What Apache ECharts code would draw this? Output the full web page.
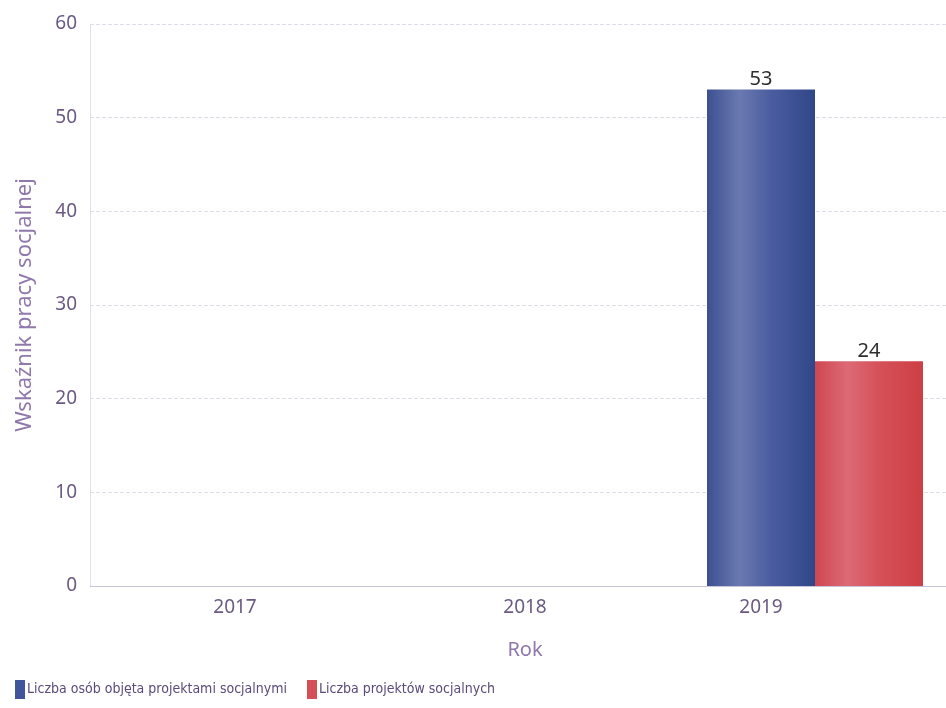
<!DOCTYPE html>
<html>
<head>
<meta charset="utf-8">
<script src="https://cdn.jsdelivr.net/npm/echarts@6/dist/echarts.min.js"></script>
<style>html,body{margin:0;padding:0;background:#fff;}#main{width:946px;height:708px;}</style>
</head>
<body>
<div id="main"></div>
<script>
const categories = ['2017', '2018', '2019'];
const seriesNames = ['Liczba osób objęta projektami socjalnymi', 'Liczba projektów socjalnych'];
const osobyValues = [null, null, 53];
const projektyValues = [null, null, 24];
const yTicks = { min: 0, max: 60, interval: 10 };

const chart = echarts.init(document.getElementById('main'));
const blueGrad = new echarts.graphic.LinearGradient(0, 0, 1, 0, [
  { offset: 0, color: '#3c5091' },
  { offset: 0.3, color: '#6a79b0' },
  { offset: 0.6, color: '#4a5c9f' },
  { offset: 1, color: '#2f478a' }
]);
const redGrad = new echarts.graphic.LinearGradient(0, 0, 1, 0, [
  { offset: 0, color: '#cf4650' },
  { offset: 0.3, color: '#dc6a76' },
  { offset: 0.6, color: '#d65058' },
  { offset: 1, color: '#cc3f44' }
]);
chart.setOption({
  animation: false,
  backgroundColor: '#ffffff',
  textStyle: { fontFamily: 'Noto Sans' },
  grid: { left: 90, right: -14, top: 24, bottom: 122, outerBoundsMode: 'none', containLabel: false },
  legend: {
    left: 10, bottom: 4, itemGap: 20, itemWidth: 10, itemHeight: 19,
    icon: 'rect',
    textStyle: { fontFamily: "'DejaVu Sans Condensed', 'Liberation Sans'", fontSize: 14, color: '#5b4a7a', padding: [0, 0, 0, -3] },
    data: [
      { name: seriesNames[0], itemStyle: { color: '#41559a' } },
      { name: seriesNames[1], itemStyle: { color: '#d44f58' } }
    ]
  },
  xAxis: {
    type: 'category', data: categories,
    name: 'Rok', nameLocation: 'middle', nameGap: 54,
    nameTextStyle: { color: '#8f78ab', fontSize: 20 },
    axisLine: { lineStyle: { color: '#c9c3d6' } },
    axisTick: { show: false },
    axisLabel: {
      color: '#6b5a82', fontSize: 19, margin: 12,
      formatter: function (v, i) { return i === categories.length - 1 ? '{s|' + v + '}' : v; },
      rich: { s: { color: '#6b5a82', fontSize: 19, padding: [0, 108, 0, 0] } }
    },
    splitLine: { show: false }
  },
  yAxis: {
    type: 'value', min: yTicks.min, max: yTicks.max, interval: yTicks.interval,
    name: 'Wskaźnik pracy socjalnej', nameLocation: 'middle', nameGap: 54, nameRotate: 90,
    nameTextStyle: { color: '#8f78ab', fontSize: 22 },
    axisLine: { show: true, lineStyle: { color: '#e2def0' } },
    axisTick: { show: false },
    axisLabel: { color: '#6b5a82', fontSize: 19, margin: 13 },
    splitLine: { lineStyle: { color: '#dedbeb', type: 'dashed', width: 1 } }
  },
  series: [
    {
      name: seriesNames[0], type: 'bar', data: osobyValues, barWidth: 108, barGap: '0%',
      itemStyle: { color: blueGrad },
      label: { show: true, position: 'top', distance: 0, color: '#2e2e2e', fontSize: 20 }
    },
    {
      name: seriesNames[1], type: 'bar', data: projektyValues, barWidth: 108,
      itemStyle: { color: redGrad },
      label: { show: true, position: 'top', distance: 0, color: '#2e2e2e', fontSize: 20 }
    }
  ]
});
</script>
</body>
</html>
